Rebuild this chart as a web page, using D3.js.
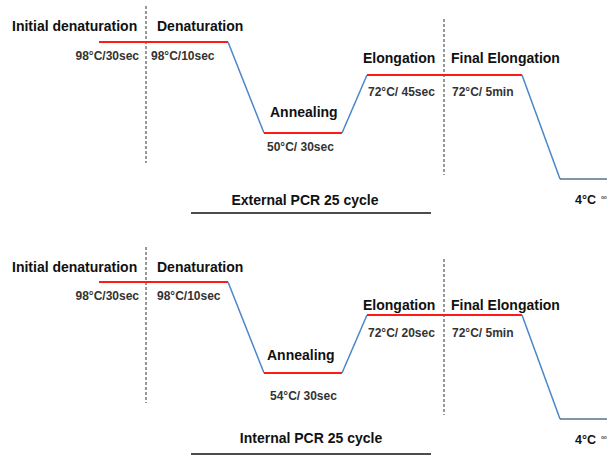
<!DOCTYPE html>
<html><head><meta charset="utf-8">
<script src="https://cdn.jsdelivr.net/npm/d3@7"></script>
<style>body{margin:0;background:#fff}svg{display:block}text{font-family:"Liberation Sans",Arial,sans-serif;font-weight:bold}</style>
</head><body><svg id="c" width="607" height="456"></svg>
<script>
// ---- data ----
const panelTitles = ["External PCR 25 cycle", "Internal PCR 25 cycle"];
const stepNames = ["Initial denaturation", "Denaturation", "Annealing", "Elongation", "Final Elongation"];
const denatTemp = [98, 98];
const annealTemp = [50, 54];
const elongTemp = [72, 72];
const holdTemp = [4, 4];
const initDenatTime = ["30sec", "30sec"];
const denatTime = ["10sec", "10sec"];
const annealTime = ["30sec", "30sec"];
const elongTime = ["45sec", "20sec"];
const finalElongTime = ["5min", "5min"];
const holdTime = ["∞", "∞"];

// ---- layout ----
const svg = d3.select("#c");
const x = d3.scaleLinear().domain([0, 508]).range([99, 607]);
const xb = {start:0, dash1:47, dEnd:129, aStart:165, aEnd:243, eStart:268, dash2:345, eEnd:423, hStart:461, end:508};

const layout = [
  {top:42, dashA:[6,163], dashB:[19,175], title:[305,205], underline:213,
   lab:{init:[12,31], den:[157,31], initT:[139,60], denT:[151,60], ann:[270,117], annT:[267,151],
        elo:[363,63], eloT:[368,96], fin:[451,63], finT:[452,96], hold:[575,204]}},
  {top:282, dashA:[247,403], dashB:[259,415], title:[311,443], underline:454,
   lab:{init:[12,272], den:[157,272], initT:[139,300], denT:[157,300], ann:[267,360], annT:[270,400],
        elo:[363,310], eloT:[368,337], fin:[451,310], finT:[452,337], hold:[575,444]}}
];

const RED = "#ff1a1a", BLUE = "#4a86c8", HOLD = "#56708f";

panelTitles.forEach((title, i) => {
  const L = layout[i];
  const y = d3.scaleLinear()
    .domain([holdTemp[i], annealTemp[i], elongTemp[i], denatTemp[i]])
    .range([L.top + 137, L.top + 91, L.top + 33, L.top]);
  const g = svg.append("g");

  [[xb.dash1, L.dashA], [xb.dash2, L.dashB]].forEach(([t, ys]) => {
    g.append("line").attr("x1", x(t)).attr("x2", x(t)).attr("y1", ys[0]).attr("y2", ys[1])
      .attr("stroke", "#333").attr("stroke-width", 1).attr("stroke-dasharray", "3,2");
  });

  const segs = [
    [xb.start, denatTemp[i], xb.dEnd, denatTemp[i], RED],
    [xb.dEnd, denatTemp[i], xb.aStart, annealTemp[i], BLUE],
    [xb.aStart, annealTemp[i], xb.aEnd, annealTemp[i], RED],
    [xb.aEnd, annealTemp[i], xb.eStart, elongTemp[i], BLUE],
    [xb.eStart, elongTemp[i], xb.eEnd, elongTemp[i], RED],
    [xb.eEnd, elongTemp[i], xb.hStart, holdTemp[i], BLUE],
    [xb.hStart, holdTemp[i], xb.end, holdTemp[i], HOLD]
  ];
  const line = d3.line().x(d => x(d[0])).y(d => y(d[1]));
  segs.forEach(s => {
    g.append("path").attr("d", line([[s[0], s[1]], [s[2], s[3]]]))
      .attr("fill", "none").attr("stroke", s[4]).attr("stroke-width", s[4] === RED ? 1.8 : 1.5);
  });

  const T = (pos, txt, size, color, anchor) =>
    g.append("text").attr("x", pos[0]).attr("y", pos[1]).attr("font-size", size)
      .attr("fill", color).attr("text-anchor", anchor || "start").text(txt);

  const lb = L.lab;
  T(lb.init, stepNames[0], 14, "#111");
  T(lb.den, stepNames[1], 14, "#111");
  T(lb.ann, stepNames[2], 14, "#111");
  T(lb.elo, stepNames[3], 14, "#111");
  T(lb.fin, stepNames[4], 14, "#111");
  T(lb.initT, `${denatTemp[i]}°C/${initDenatTime[i]}`, 12, "#333", "end");
  T(lb.denT, `${denatTemp[i]}°C/${denatTime[i]}`, 12, "#333");
  T(lb.annT, `${annealTemp[i]}°C/ ${annealTime[i]}`, 12, "#333");
  T(lb.eloT, `${elongTemp[i]}°C/ ${elongTime[i]}`, 12, "#333");
  T(lb.finT, `${elongTemp[i]}°C/ ${finalElongTime[i]}`, 12, "#333");
  const h = T(lb.hold, `${holdTemp[i]}°C`, 12.5, "#111");
  h.append("tspan").attr("dx", 5).attr("dy", -4).attr("font-size", 8).attr("font-weight", "normal").text(holdTime[i]);

  T(L.title, title, 14, "#111", "middle");
  g.append("line").attr("x1", 191).attr("x2", 431).attr("y1", L.underline).attr("y2", L.underline)
    .attr("stroke", "#111").attr("stroke-width", 1.5);
});
</script></body></html>
